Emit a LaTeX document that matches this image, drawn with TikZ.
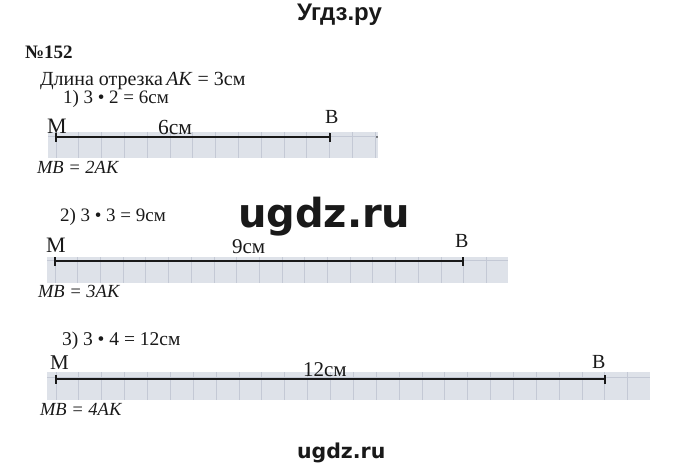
\documentclass[tikz,border=0pt]{standalone}
\usepackage{fontspec}
\setmainfont{Liberation Serif}
\newfontfamily\wmfont{DejaVu Sans}
\newfontfamily\hdfont{Liberation Sans}
\definecolor{paper}{RGB}{222,226,233}
\definecolor{gridc}{RGB}{196,201,213}
\definecolor{ink}{RGB}{25,25,25}
\tikzset{
  txt/.style={anchor=base west, inner sep=0pt, outer sep=0pt, text=ink},
  strip/.style={fill=paper, draw=none},
  gridline/.style={draw=gridc, line width=0.8pt},
  seg/.style={draw=ink, line width=2.6pt},
  tick/.style={draw=ink, line width=2pt},
}
\begin{document}
\begin{tikzpicture}[x=1pt,y=-1pt]
\useasboundingbox (0,0) rectangle (680,471);
% header and watermarks
\node[txt] (hdr) at (297,20) {\hdfont\bfseries\fontsize{24}{24}\selectfont Угдз.ру};
\node[txt] (wm1) at (238,227) {\wmfont\bfseries\fontsize{40}{40}\selectfont ugdz.ru};
\node[txt] (wm2) at (297,458) {\wmfont\bfseries\fontsize{20.5}{20.5}\selectfont ugdz.ru};
% texts
\node[txt] (num) at (25,58) {\bfseries\fontsize{19}{19}\selectfont №152};
\node[txt] (len) at (40,85) {\fontsize{20}{20}\selectfont Длина отрезка\,\textit{AK} = 3см};
% strip 1
\fill[strip] (48,132) rectangle (378,158);
\foreach \i in {0,...,14} {\draw[gridline] (56+22.8*\i,132) -- (56+22.8*\i,158);}
\draw[gridline] (48,136) -- (378,136);
\node[txt] (e1) at (63,103) {\fontsize{19}{19}\selectfont 1) 3 • 2 = 6см};
\coordinate (M1) at (56,137);
\coordinate (B1) at (330,137);
\draw[seg] (M1) -- (B1);
\draw[tick] ([yshift=-4.5pt]M1) -- ([yshift=4.5pt]M1);
\draw[tick] ([yshift=-4.5pt]B1) -- ([yshift=4.5pt]B1);
\fill[ink] (377,137) circle (0.9pt);
\node[txt] (lM1) at (47,133) {\fontsize{22}{22}\selectfont M};
\node[txt] (lB1) at (325,123) {\fontsize{20}{20}\selectfont B};
\node[txt] (d1) at (158,134) {\fontsize{21.5}{21.5}\selectfont 6см};
\node[txt] (r1) at (37,173) {\itshape\fontsize{18.5}{18.5}\selectfont MB = 2AK};
% strip 2
\fill[strip] (47,257) rectangle (508,283);
\foreach \i in {0,...,19} {\draw[gridline] (55+22.7*\i,257) -- (55+22.7*\i,283);}
\draw[gridline] (47,260) -- (508,260);
\node[txt] (e2) at (60,221) {\fontsize{19}{19}\selectfont 2) 3 • 3 = 9см};
\coordinate (M2) at (55,261);
\coordinate (B2) at (463,261);
\draw[seg] (M2) -- (B2);
\draw[tick] ([yshift=-4.5pt]M2) -- ([yshift=4.5pt]M2);
\draw[tick] ([yshift=-4.5pt]B2) -- ([yshift=4.5pt]B2);
\node[txt] (lM2) at (46,252) {\fontsize{22}{22}\selectfont M};
\node[txt] (lB2) at (455,247) {\fontsize{20}{20}\selectfont B};
\node[txt] (d2) at (232,253) {\fontsize{21}{21}\selectfont 9см};
\node[txt] (r2) at (38,297) {\itshape\fontsize{18.5}{18.5}\selectfont MB = 3AK};
% strip 3
\fill[strip] (47,372) rectangle (650,400);
\foreach \i in {0,...,25} {\draw[gridline] (56+22.87*\i,372) -- (56+22.87*\i,400);}
\draw[gridline] (47,377) -- (650,377);
\node[txt] (e3) at (62,345) {\fontsize{19.5}{19.5}\selectfont 3) 3 • 4 = 12см};
\coordinate (M3) at (56,379);
\coordinate (B3) at (605,379);
\draw[seg] (M3) -- (B3);
\draw[tick] ([yshift=-4.5pt]M3) -- ([yshift=4.5pt]M3);
\draw[tick] ([yshift=-4.5pt]B3) -- ([yshift=4.5pt]B3);
\node[txt] (lM3) at (50,369) {\fontsize{21}{21}\selectfont M};
\node[txt] (lB3) at (592,368) {\fontsize{20}{20}\selectfont B};
\node[txt] (d3) at (303,376) {\fontsize{21}{21}\selectfont 12см};
\node[txt] (r3) at (40,415) {\itshape\fontsize{18.5}{18.5}\selectfont MB = 4AK};
\end{tikzpicture}
\end{document}
